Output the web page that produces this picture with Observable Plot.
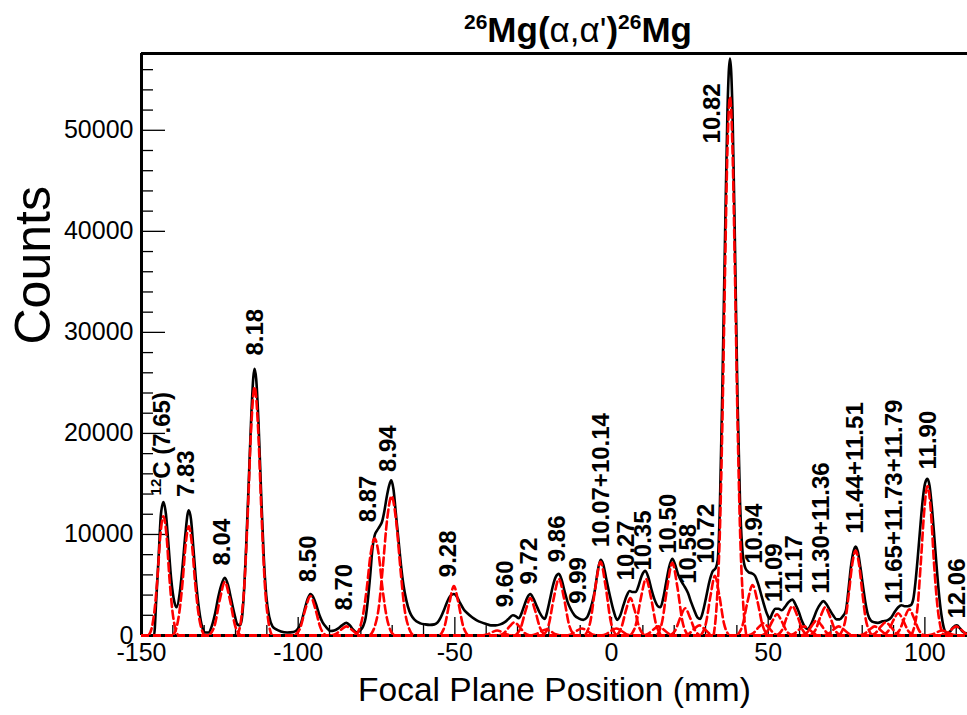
<!DOCTYPE html>
<html><head><meta charset="utf-8">
<script src="https://cdn.jsdelivr.net/npm/d3@7"></script>
<script src="https://cdn.jsdelivr.net/npm/@observablehq/plot@0.6"></script>
<style>body{margin:0;background:#fff}#chart{width:967px;height:715px}</style>
</head><body><div id="chart"></div>
<script>
// ---- axis ticks ----
const xMajor = [-150, -100, -50, 0, 50, 100];
const xMinor = [-140,-130,-120,-110,-90,-80,-70,-60,-40,-30,-20,-10,10,20,30,40,60,70,80,90,110];
const yMajor = [0, 10000, 20000, 30000, 40000, 50000];
const yMinor = [2000,4000,6000,8000,12000,14000,16000,18000,22000,24000,26000,28000,32000,34000,36000,38000,42000,44000,46000,48000,52000,54000,56000];
const xDomain = [-150, 113.6];
const yDomain = [0, 57600];

// ---- measured spectrum: [focal plane position (mm), counts] ----
const spectrum = [
[-150,0],[-146.0,0],[-145.3,3500],[-144.5,8000],[-143.8,12000],[-143.0,13200],[-142.2,12000],[-141.4,9000],[-140.5,5500],[-139.5,3300],[-138.8,2800],
[-137.8,4200],[-137.0,6500],[-136.0,10000],[-135.3,12000],[-134.9,12400],[-134.2,11500],[-133.4,8500],[-132.5,5000],[-131.6,2500],[-130.6,800],[-129.6,300],[-128.6,300],
[-127.5,1000],[-126.5,2200],[-125.5,3800],[-124.5,5000],[-123.4,5700],[-122.4,5000],[-121.4,3600],[-120.4,2200],[-119.4,1100],[-118.6,1000],
[-118.0,1600],[-117.4,3800],[-116.6,8800],[-115.8,15000],[-115.0,21500],[-114.3,25600],[-113.9,26400],[-113.4,25400],[-112.6,20600],[-111.8,13900],[-111.0,7900],[-110.2,4000],[-109.2,1800],[-108.2,900],[-107.0,600],[-105.5,400],[-103.5,300],[-101.5,350],
[-100.0,700],[-99.0,1300],[-98.0,2500],[-97.0,3600],[-96.1,4100],[-95.2,3800],[-94.2,3000],[-93.2,2000],[-92.2,1300],[-91.0,800],[-89.7,450],[-88.5,500],[-87.2,700],[-86.0,1000],[-84.6,1250],[-83.5,1000],[-82.5,600],[-81.2,300],[-80.2,500],
[-79.3,900],[-78.5,1700],[-77.8,3400],[-77.0,6000],[-76.3,8600],[-75.6,9900],[-74.8,10400],[-74.0,10800],[-73.2,11300],[-72.5,12300],[-71.8,13600],[-71.0,14800],[-70.3,15350],[-69.6,14500],[-68.8,12000],[-68.0,9500],[-67.2,7000],[-66.4,5000],[-65.5,3500],[-64.5,2400],[-63.5,1800],[-62.3,1400],[-61.0,1200],[-59.5,1100],[-58.0,1050],[-56.5,1100],
[-55.5,1300],[-54.5,1800],[-53.5,2500],[-52.5,3300],[-51.5,3900],[-50.3,4100],[-49.3,3800],[-48.3,3200],[-47.2,2600],[-46.0,2200],[-44.5,1800],[-43.0,1500],[-41.5,1300],[-40.0,1150],[-38.5,1000],[-37.0,1000],[-35.5,1100],
[-34.2,1300],[-33.0,1600],[-31.5,2000],[-30.5,1900],[-29.6,1700],[-28.6,2300],[-27.7,3100],[-26.8,3800],[-25.9,4100],[-25.0,3700],[-24.0,3000],[-23.0,2300],[-22.0,1800],[-21.3,1650],
[-20.5,2400],[-19.7,3500],[-18.8,4800],[-17.8,5800],[-16.8,6100],[-15.9,5500],[-15.0,4400],[-14.0,3300],[-13.0,2600],[-11.8,2000],[-10.5,1700],[-9.0,1550],[-7.8,1800],
[-7.0,2400],[-6.2,3200],[-5.3,4500],[-4.5,6200],[-3.5,7500],[-2.6,7000],[-1.8,5800],[-1.0,4600],[-0.2,3500],[0.7,2400],[1.8,1550],
[2.8,2000],[3.8,3000],[4.8,3900],[5.8,4400],[6.8,4300],[7.7,4300],[8.6,4900],[9.6,5900],[10.8,6400],[11.8,5700],[12.8,4500],[13.8,3500],[14.8,2900],[15.6,2800],
[16.5,3700],[17.4,5200],[18.4,6800],[19.4,7600],[20.3,7000],[21.3,6000],[22.4,5300],[23.4,4800],[24.4,4200],[25.4,3300],[26.4,2500],[27.4,1800],[28.3,1650],
[29.2,2400],[30.2,3800],[31.2,5300],[32.2,6300],[33.3,6700],[33.9,7500],[34.6,13000],[35.4,25000],[36.2,39000],[37.0,52000],[37.8,57100],[38.6,52000],[39.4,38500],[40.2,23500],[41.0,13300],[41.9,8000],[42.8,6600],
[43.8,6250],[44.8,6150],[45.8,5900],[46.8,5100],[47.8,4000],[48.8,2900],[49.8,2000],[50.5,1650],[51.3,2200],[52.3,2650],[53.3,2650],[54.3,2500],[55.3,2800],[56.5,3300],[57.7,3550],[58.8,3000],[59.8,2300],[60.8,1400],[61.8,800],[62.6,650],
[63.5,1000],[64.5,1700],[65.5,2500],[66.6,3100],[67.6,3400],[68.6,3100],[69.7,2500],[70.7,2000],[71.8,1600],[72.8,1600],[73.8,1900],[74.8,2500],
[75.6,4500],[76.4,6800],[77.2,8300],[77.9,8800],[78.6,8300],[79.4,6800],[80.2,5000],[81.0,3300],[81.8,2100],[82.7,1500],[83.8,1300],[85.0,1250],[86.5,1400],[88.0,1500],[89.3,1800],
[90.5,2400],[91.5,2800],[92.5,3000],[93.5,2900],[94.5,2900],[95.5,3000],[96.3,3600],[97.0,5300],[97.8,8000],[98.6,11000],[99.4,13700],[100.1,15100],[100.8,15500],[101.5,14800],[102.2,12800],[103.0,9800],[103.8,6600],[104.6,3800],[105.4,1800],[106.2,600],[107.0,250],
[108.0,400],[109.0,800],[110.2,1000],[111.2,700],[112.2,350],[113.6,200]
];

// ---- fitted peak components (red dashed) ----
const fitCurves = [
[[-147.8,0],[-146.8,660],[-145.9,2340],[-144.9,5750],[-144.0,9850],[-143.0,11800],[-142.0,9850],[-141.1,5750],[-140.1,2340],[-139.2,660],[-138.2,0]],
[[-140.0,0],[-139.0,600],[-138.0,2140],[-136.9,5260],[-135.9,9020],[-134.9,10800],[-133.9,9020],[-132.9,5260],[-131.8,2140],[-130.8,600],[-129.8,0]],
[[-128.4,0],[-126.6,1060],[-125.0,3550],[-123.4,5300],[-121.8,3550],[-120.2,1060],[-118.4,0]],
[[-119.5,0],[-118.3,1380],[-117.2,4870],[-116.1,11980],[-115.0,20540],[-113.9,24600],[-112.8,20540],[-111.7,11980],[-110.6,4870],[-109.5,1380],[-108.4,0]],
[[-101.1,0],[-99.3,780],[-97.7,2610],[-96.1,3900],[-94.5,2610],[-92.9,780],[-91.1,0]],
[[-89.6,0],[-87.8,180],[-86.2,600],[-84.6,900],[-83.0,600],[-81.4,180],[-79.6,0]],
[[-81.9,0],[-80.6,540],[-79.4,1900],[-78.1,4680],[-76.9,8020],[-75.6,9600],[-74.3,8020],[-73.1,4680],[-71.8,1900],[-70.6,540],[-69.3,0]],
[[-77.1,0],[-75.7,770],[-74.3,2730],[-73.0,6720],[-71.6,11520],[-70.2,13800],[-68.8,11520],[-67.4,6720],[-66.1,2730],[-64.7,770],[-63.3,0]],
[[-54.8,0],[-53.2,980],[-51.7,3280],[-50.3,4900],[-48.9,3280],[-47.4,980],[-45.8,0]],
[[-41.5,0],[-39.7,100],[-38.1,335],[-36.5,500],[-34.9,335],[-33.3,100],[-31.5,0]],
[[-36.0,0],[-34.2,260],[-32.6,870],[-31.0,1300],[-29.4,870],[-27.8,260],[-26.0,0]],
[[-30.7,0],[-29.0,740],[-27.4,2480],[-25.9,3700],[-24.4,2480],[-22.8,740],[-21.1,0]],
[[-26.0,0],[-24.2,120],[-22.6,400],[-21.0,600],[-19.4,400],[-17.8,120],[-16.0,0]],
[[-21.8,0],[-20.0,1120],[-18.4,3750],[-16.8,5600],[-15.2,3750],[-13.6,1120],[-11.8,0]],
[[-14.5,0],[-12.7,140],[-11.1,470],[-9.5,700],[-7.9,470],[-6.3,140],[-4.5,0]],
[[-8.5,0],[-6.7,1460],[-5.1,4890],[-3.5,7300],[-1.9,4890],[-0.3,1460],[1.5,0]],
[[-3.5,0],[-1.7,140],[-0.1,470],[1.5,700],[3.1,470],[4.7,140],[6.5,0]],
[[1.5,0],[3.1,740],[4.6,2480],[6.0,3700],[7.4,2480],[8.9,740],[10.5,0]],
[[6.0,0],[7.8,1120],[9.4,3750],[11.0,5600],[12.6,3750],[14.2,1120],[16.0,0]],
[[10.0,0],[11.8,180],[13.4,600],[15.0,900],[16.6,600],[18.2,180],[20.0,0]],
[[14.4,0],[16.2,1440],[17.8,4820],[19.4,7200],[21.0,4820],[22.6,1440],[24.4,0]],
[[18.7,0],[20.4,540],[22.0,1810],[23.5,2700],[25.0,1810],[26.6,540],[28.3,0]],
[[23.0,0],[24.8,200],[26.4,670],[28.0,1000],[29.6,670],[31.2,200],[33.0,0]],
[[28.5,0],[30.1,1180],[31.6,3950],[33.0,5900],[34.4,3950],[35.9,1180],[37.5,0]],
[[32.6,0],[33.7,3780],[34.6,10550],[35.4,21430],[36.2,35550],[37.0,48180],[37.8,53300],[38.6,48180],[39.4,35550],[40.2,21430],[41.0,10550],[41.9,3780],[43.0,0]],
[[40.0,0],[41.8,1000],[43.4,3350],[45.0,5000],[46.6,3350],[48.2,1000],[50.0,0]],
[[43.5,0],[45.3,240],[46.9,800],[48.5,1200],[50.1,800],[51.7,240],[53.5,0]],
[[48.0,0],[49.7,420],[51.3,1410],[52.8,2100],[54.3,1410],[55.9,420],[57.6,0]],
[[52.7,0],[54.5,580],[56.1,1940],[57.7,2900],[59.3,1940],[60.9,580],[62.7,0]],
[[56.5,0],[58.3,180],[59.9,600],[61.5,900],[63.1,600],[64.7,180],[66.5,0]],
[[60.7,0],[62.4,300],[64.0,1000],[65.5,1500],[67.0,1000],[68.6,300],[70.3,0]],
[[63.4,0],[65.1,560],[66.7,1880],[68.2,2800],[69.7,1880],[71.3,560],[73.0,0]],
[[67.5,0],[69.3,180],[70.9,600],[72.5,900],[74.1,600],[75.7,180],[77.5,0]],
[[72.5,0],[73.6,470],[74.7,1660],[75.7,4090],[76.8,7010],[77.9,8400],[79.0,7010],[80.1,4090],[81.1,1660],[82.2,470],[83.3,0]],
[[79.0,0],[80.8,180],[82.4,600],[84.0,900],[85.6,600],[87.2,180],[89.0,0]],
[[82.5,0],[84.3,260],[85.9,870],[87.5,1300],[89.1,870],[90.7,260],[92.5,0]],
[[86.5,0],[88.3,440],[89.9,1470],[91.5,2200],[93.1,1470],[94.7,440],[96.5,0]],
[[90.2,0],[91.9,520],[93.5,1740],[95.0,2600],[96.5,1740],[98.1,520],[99.8,0]],
[[95.6,0],[96.6,830],[97.7,2930],[98.7,7210],[99.8,12360],[100.8,14800],[101.9,12360],[102.9,7210],[104.0,2930],[105.0,830],[106.1,0]],
[[100.5,0],[102.3,100],[103.9,335],[105.5,500],[107.1,335],[108.7,100],[110.5,0]],
[[105.2,0],[106.9,180],[108.5,600],[110.0,900],[111.5,600],[113.1,180],[114.8,0]]
];

// ---- peak labels (excitation energies, MeV) ----
const labelText = ["12C (7.65)","7.83","8.04","8.18","8.50","8.70","8.87","8.94","9.28","9.60","9.72","9.86","9.99","10.07+10.14","10.27","10.35","10.50","10.58","10.72","10.82","10.94","11.09","11.17","11.30+11.36","11.44+11.51","11.65+11.73+11.79","11.90","12.06"];
const labelX = [-143.3,-135.7,-124.3,-113.6,-96.7,-85.2,-77.7,-71.2,-52.2,-33.8,-26.2,-17.4,-10.7,-3.2,4.8,10.1,18.0,24.4,30.3,32.2,45.5,52.0,58.4,67.0,77.9,90.3,101.0,110.4];
const labelY = [13860,13700,6930,27700,5280,2475,11200,16170,5770,2800,5050,7260,3140,8740,5450,6430,8090,5110,7100,48700,7100,3300,4130,4130,10070,3140,16430,1680];

const fitRows = fitCurves.flatMap((c, id) => c.map(([x, y]) => ({x, y, id})));

const W = 967, H = 715, mL = 141, mR = 0, mT = 53, mB = 80;
const fw = W - mL - mR, fh = H - mT - mB;
const FONT = "Liberation Sans, Arial, Helvetica, sans-serif";

const chart = Plot.plot({
  width: W, height: H,
  marginLeft: mL, marginRight: mR, marginTop: mT, marginBottom: mB,
  style: {fontFamily: FONT, background: "#fff", color: "#000", overflow: "visible"},
  x: {domain: xDomain, axis: null},
  y: {domain: yDomain, axis: null},
  marks: [
    Plot.tickY(yMajor, {y: d => d, insetRight: fw - 24, stroke: "#000", strokeWidth: 1.3}),
    Plot.tickY(yMinor, {y: d => d, insetRight: fw - 12, stroke: "#000", strokeWidth: 1.3}),
    Plot.tickX(xMajor, {x: d => d, insetTop: fh - 18, stroke: "#000", strokeWidth: 1.3}),
    Plot.tickX(xMinor, {x: d => d, insetTop: fh - 10, stroke: "#000", strokeWidth: 1.3}),
    Plot.line(spectrum, {x: d => d[0], y: d => d[1], stroke: "#000", strokeWidth: 2.6, curve: "monotone-x", clip: true}),
    Plot.ruleX([xDomain[0]], {stroke: "#000", strokeWidth: 3}),
    Plot.ruleY([yDomain[0]], {stroke: "#000", strokeWidth: 3}),
    Plot.ruleY([yDomain[1]], {stroke: "#000", strokeWidth: 3}),
    Plot.line(fitRows, {x: "x", y: "y", z: "id", stroke: "#ff0000", strokeWidth: 2.6, strokeDasharray: "8,4", curve: "monotone-x", clip: true}),
    Plot.ruleY([0], {stroke: "#ff0000", strokeWidth: 3, strokeDasharray: "8,4"}),
    Plot.text(xMajor, {x: d => d, text: d => String(d), frameAnchor: "bottom", lineAnchor: "middle", dy: 17, fontSize: 25, fill: "#000"}),
    Plot.text(yMajor, {y: d => d, text: d => String(d), frameAnchor: "left", lineAnchor: "middle", dx: -8, textAnchor: "end", fontSize: 25, fill: "#000"}),
    Plot.text(["Counts"], {frameAnchor: "left", lineAnchor: "middle", dx: -108, rotate: -90, fontSize: 50, fill: "#000"}),
    Plot.text(["Focal Plane Position (mm)"], {frameAnchor: "bottom", lineAnchor: "middle", dy: 55, fontSize: 33.5, fill: "#000"}),
    Plot.text(labelText, {x: (d, i) => labelX[i], y: (d, i) => labelY[i], text: d => d, rotate: -90, textAnchor: "start", lineAnchor: "middle", fontSize: 24, fontWeight: "bold", fill: "#000"})
  ]
});

// superscript for the 12C label
d3.select(chart).selectAll("text").filter(function() { return this.textContent === "12C (7.65)"; })
  .each(function() {
    const el = d3.select(this);
    el.text(null);
    el.append("tspan").attr("font-size", 15).attr("dy", -9).text("12");
    el.append("tspan").attr("dy", 9).text("C (7.65)");
  });

// title with superscripts
const title = d3.select(chart).append("text")
  .attr("x", 578).attr("y", 42).attr("text-anchor", "middle")
  .attr("font-family", FONT).attr("font-size", 35).attr("font-weight", "bold").attr("fill", "#000");
title.append("tspan").attr("font-size", 21).attr("dy", -13).text("26");
title.append("tspan").attr("dy", 13).text("Mg(");
title.append("tspan").attr("font-weight", "normal").text("α,α'");
title.append("tspan").text(")");
title.append("tspan").attr("font-size", 21).attr("dy", -13).text("26");
title.append("tspan").attr("dy", 13).text("Mg");

document.getElementById("chart").appendChild(chart);
</script>
</body></html>
